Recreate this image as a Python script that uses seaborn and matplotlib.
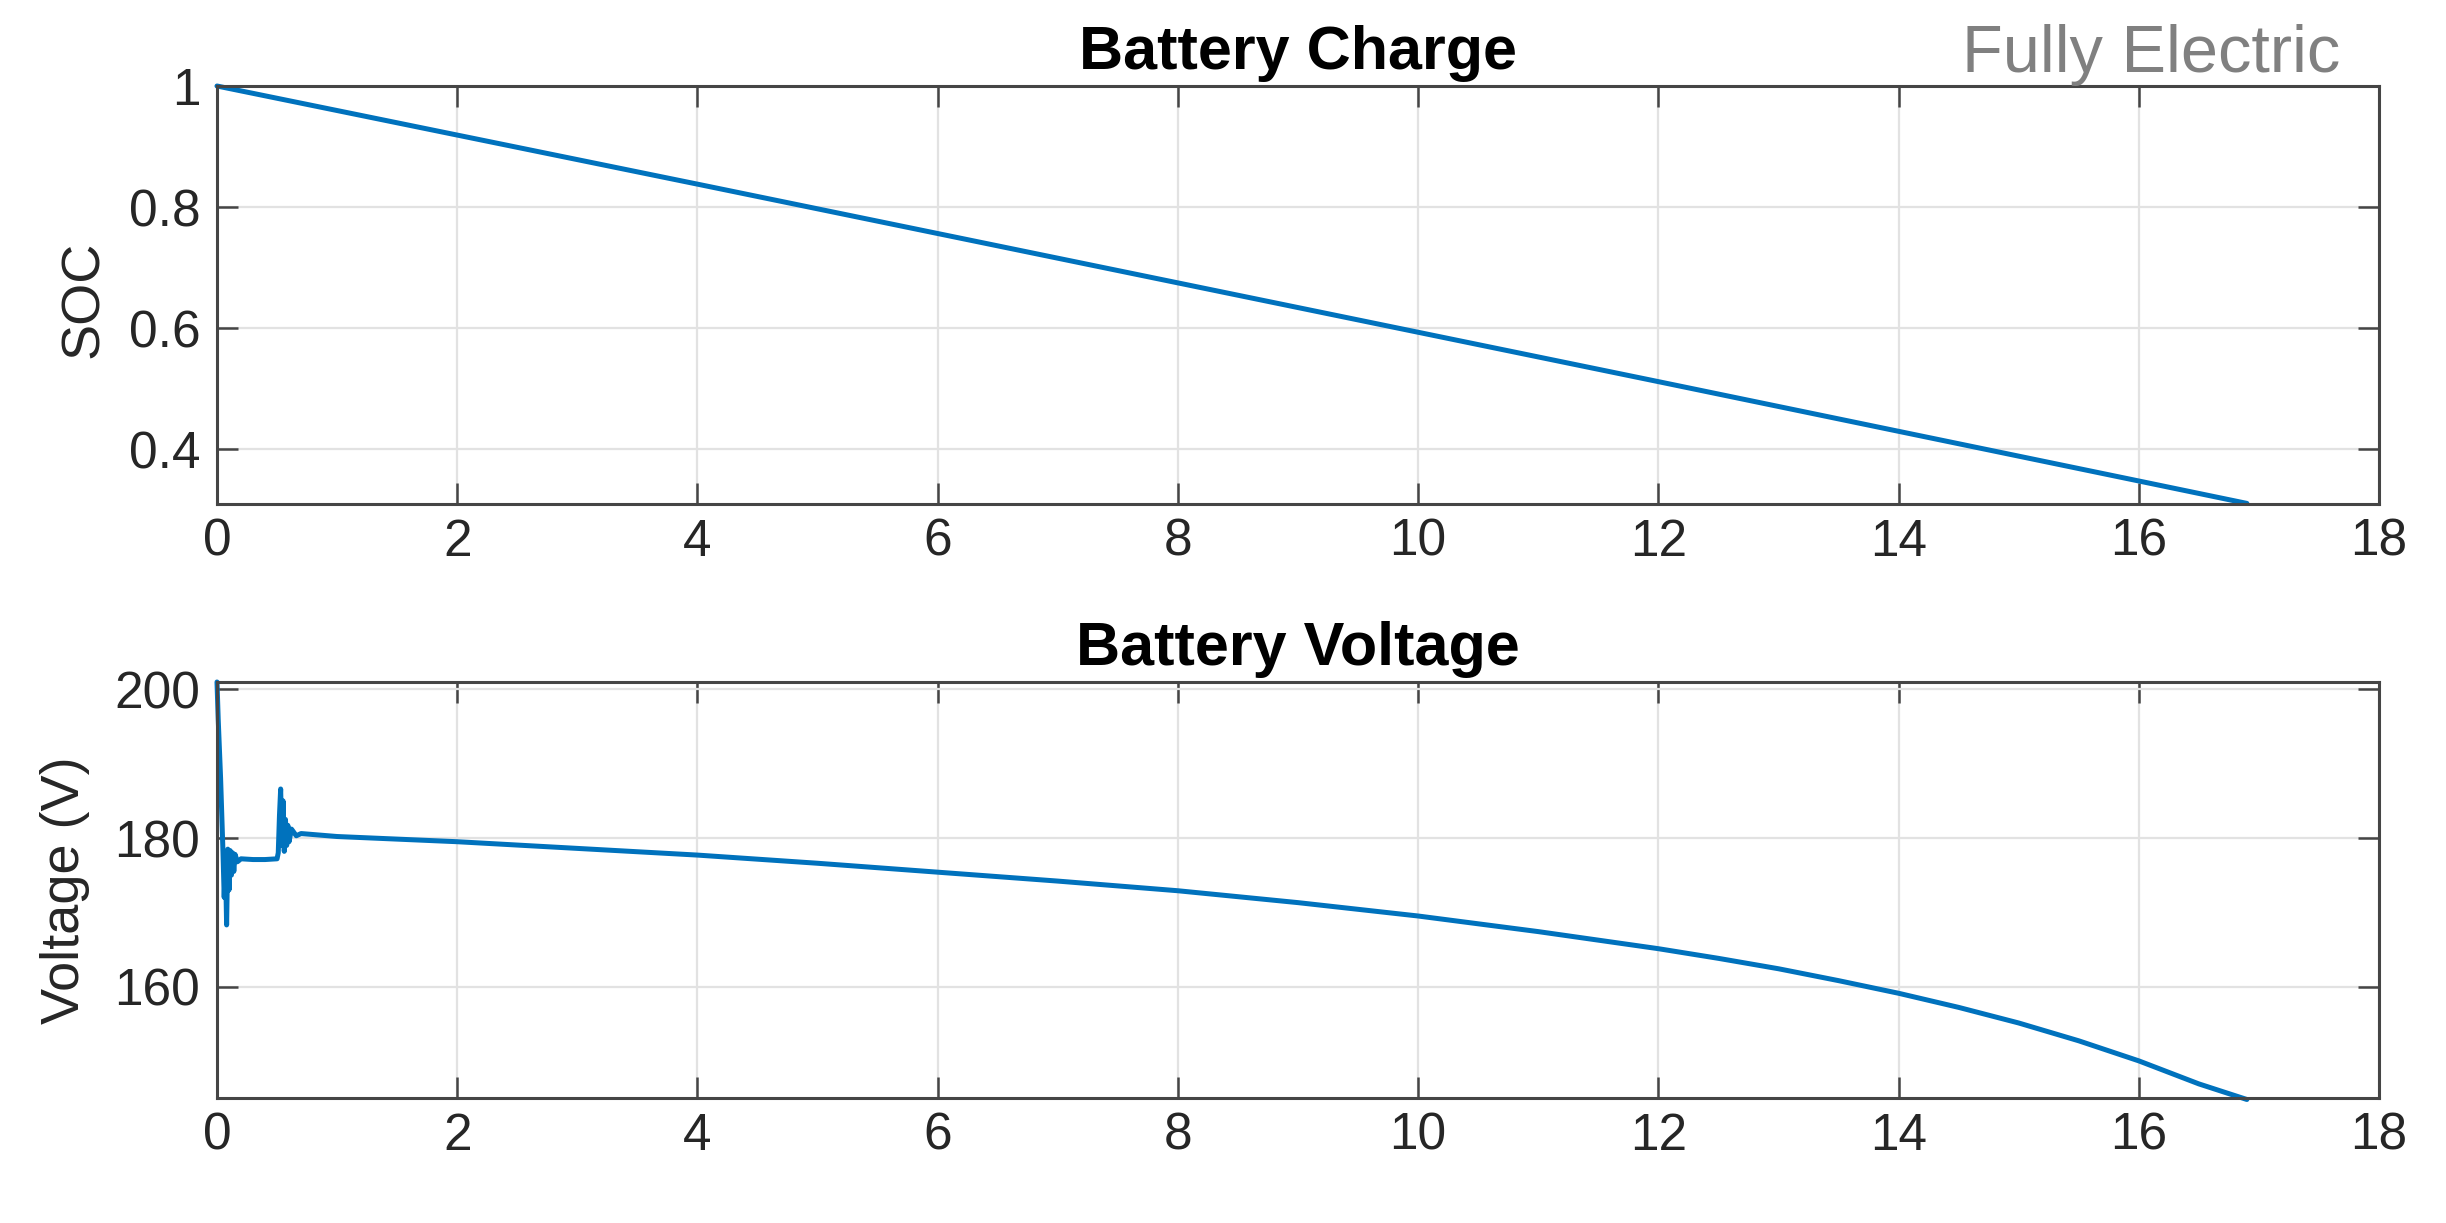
import numpy as np
import pandas as pd
import matplotlib
matplotlib.use("Agg")
import matplotlib.pyplot as plt
import seaborn as sns

# ---- data ----
soc_time = [0.0, 4.0, 8.0, 12.0, 16.0, 16.9]
soc_value = [1.0, 0.838, 0.675, 0.512, 0.348, 0.311]

volt_time = [0.00, 0.01, 0.03, 0.05, 0.06, 0.07, 0.08, 0.09, 0.10, 0.11, 0.12,
             0.13, 0.14, 0.15, 0.17, 0.20, 0.30, 0.40, 0.50, 0.51, 0.52, 0.53,
             0.54, 0.55, 0.56, 0.57, 0.58, 0.59, 0.60, 0.62, 0.66, 0.70, 1.0,
             2.0, 3.0, 4.0, 5.0, 6.0, 7.0, 8.0, 9.0, 10.0, 11.0, 12.0, 12.5,
             13.0, 13.5, 14.0, 14.5, 15.0, 15.5, 16.0, 16.5, 16.9]
volt_value = [201.0, 196.0, 188.0, 178.0, 172.0, 177.0, 168.3, 178.5, 173.0,
              178.3, 175.0, 178.0, 175.5, 177.8, 176.8, 177.2, 177.1, 177.1,
              177.2, 178.0, 183.0, 186.6, 179.0, 185.0, 178.2, 182.5, 179.0,
              181.7, 179.5, 181.2, 180.3, 180.6, 180.2, 179.5, 178.6, 177.7,
              176.6, 175.4, 174.2, 172.9, 171.3, 169.5, 167.4, 165.1, 163.8,
              162.4, 160.8, 159.1, 157.2, 155.1, 152.7, 150.0, 146.9, 144.8]

x_ticks = [0, 2, 4, 6, 8, 10, 12, 14, 16, 18]
soc_ticks = [0.4, 0.6, 0.8, 1.0]
soc_ticklabels = ["0.4", "0.6", "0.8", "1"]
volt_ticks = [160, 180, 200]

sns.set_theme(style="white")
plt.rcParams['font.family'] = ['Liberation Sans', 'DejaVu Sans']

W, H, DPI = 2446, 1223, 100
fig = plt.figure(figsize=(W / DPI, H / DPI), dpi=DPI)
fig.patch.set_facecolor("white")

left, width = 217 / W, (2379 - 217) / W
ax1 = fig.add_axes([left, 1 - 504 / H, width, (504 - 86) / H])
ax2 = fig.add_axes([left, 1 - 1098 / H, width, (1098 - 682) / H])

line_color = "#0072BD"
axis_color = "#454545"
tick_label_color = "#262626"
tick_fs = 37
label_fs = 39

df_soc = pd.DataFrame({"t": soc_time, "soc": soc_value})
df_v = pd.DataFrame({"t": volt_time, "v": volt_value})

sns.lineplot(data=df_soc, x="t", y="soc", ax=ax1, color=line_color,
             linewidth=3.6, estimator=None, sort=False)
sns.lineplot(data=df_v, x="t", y="v", ax=ax2, color=line_color,
             linewidth=3.6, estimator=None, sort=False)

for ax in (ax1, ax2):
    ax.set_xlim(0, 18)
    ax.set_xticks(x_ticks)
    ax.set_xticklabels([str(t) for t in x_ticks])
    ax.grid(True, color="#e2e2e2", linewidth=1.6)
    ax.set_axisbelow(True)
    for s in ax.spines.values():
        s.set_visible(True)
        s.set_color(axis_color)
        s.set_linewidth(2.2)
    ax.tick_params(axis="both", which="both", direction="in", length=15,
                   width=1.8, color=axis_color, labelsize=tick_fs,
                   labelcolor=tick_label_color, top=True, right=True,
                   bottom=True, left=True)
    ax.tick_params(axis="x", pad=10)
    ax.tick_params(axis="y", pad=12)
    ax.set_xlabel("")
    for l in ax.get_lines():
        l.set_clip_on(False)

ax1.set_ylim(0.31, 1.0)
ax1.set_yticks(soc_ticks)
ax1.set_yticklabels(soc_ticklabels)
ax1.set_ylabel("SOC", fontsize=label_fs, color=tick_label_color)
ax1.yaxis.set_label_coords(-0.050, 0.49)
ax1.set_title("Battery Charge", fontsize=44, fontweight="bold", color="black", pad=12)

ax2.set_ylim(145, 201)
ax2.set_yticks(volt_ticks)
ax2.set_ylabel("Voltage (V)", fontsize=label_fs, color=tick_label_color)
ax2.yaxis.set_label_coords(-0.0587, 0.5)
ax2.set_title("Battery Voltage", fontsize=44, fontweight="bold", color="black", pad=12)

fig.text(2340 / W, 1 - 55 / H, "Fully Electric", ha="right", va="center",
         fontsize=48, color="#808080")

fig.savefig("out.png", dpi=DPI, facecolor="white")
